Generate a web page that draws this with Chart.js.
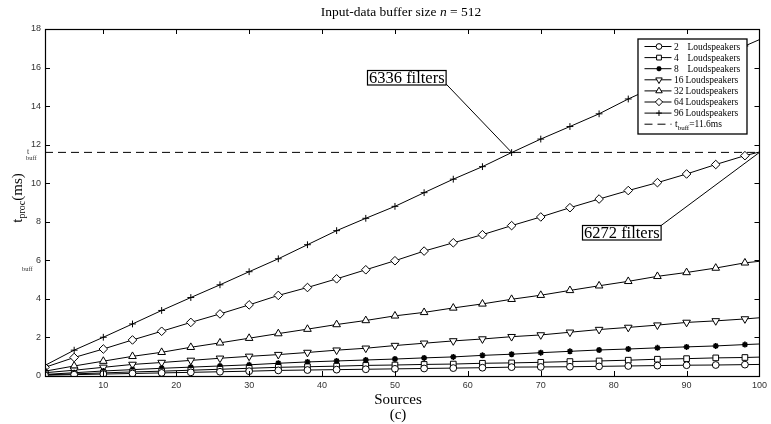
<!DOCTYPE html>
<html><head><meta charset="utf-8">
<script src="https://cdn.jsdelivr.net/npm/chart.js@4/dist/chart.umd.min.js"></script>
<style>html,body{margin:0;padding:0;background:#fff;overflow:hidden}#wrap{width:771px;height:424px;position:relative}</style>
</head><body><div id="wrap"><canvas id="c" width="771" height="424"></canvas></div>
<script>
// ---------------- data ----------------
const SOURCES = [2,6,10,14,18,22,26,30,34,38,42,46,50,54,58,62,66,70,74,78,82,86,90,94,98,100];
const LS_2  = [0.04,0.07,0.10,0.13,0.16,0.19,0.22,0.25,0.29,0.31,0.33,0.35,0.37,0.39,0.41,0.43,0.46,0.47,0.48,0.50,0.52,0.54,0.56,0.57,0.59,0.60];
const LS_4  = [0.06,0.11,0.16,0.21,0.25,0.30,0.35,0.40,0.45,0.48,0.51,0.55,0.57,0.60,0.62,0.66,0.68,0.71,0.75,0.78,0.82,0.87,0.90,0.94,0.96,0.98];
const LS_8  = [0.08,0.17,0.26,0.33,0.40,0.46,0.52,0.58,0.66,0.73,0.78,0.83,0.88,0.94,0.99,1.07,1.13,1.21,1.28,1.35,1.40,1.46,1.51,1.56,1.63,1.66];
const LS_16 = [0.17,0.30,0.45,0.60,0.70,0.81,0.92,1.02,1.11,1.22,1.34,1.44,1.58,1.70,1.82,1.92,2.04,2.13,2.27,2.41,2.52,2.64,2.78,2.86,2.96,3.02];
const LS_32 = [0.25,0.52,0.77,1.02,1.23,1.49,1.72,1.96,2.20,2.43,2.67,2.88,3.12,3.30,3.53,3.74,3.98,4.19,4.44,4.68,4.91,5.17,5.37,5.60,5.87,5.95];
const LS_64 = [0.45,0.96,1.40,1.87,2.32,2.78,3.22,3.69,4.18,4.59,5.04,5.51,5.98,6.48,6.91,7.33,7.80,8.25,8.73,9.18,9.62,10.03,10.48,10.97,11.43,11.62];
const LS_96 = [0.55,1.34,2.01,2.70,3.40,4.07,4.73,5.41,6.08,6.81,7.54,8.18,8.80,9.51,10.21,10.86,11.59,12.29,12.94,13.60,14.37,15.06,15.76,16.46,17.12,17.45];
const SERIES_COUNTS = ['2','4','8','16','32','64','96'];
const T_BUFF = 11.6;
const XTICKS = [10,20,30,40,50,60,70,80,90,100];
const YTICKS = [0,2,4,6,8,10,12,14,16,18];
const ANNOT_TEXT = ['6336 filters','6272 filters'];
const ANNOT_TARGET_X = [66,100];
const ANNOT_TARGET_Y = [11.6,11.6];

// ---------------- styles ----------------
const MARKERS = [
  {style:'circle', r:3.4, fill:'#fff', rot:0},
  {style:'rect', r:4.0, fill:'#fff', rot:0},
  {style:'star', r:3.0, fill:'#000', rot:0},
  {style:'triangle', r:4.4, fill:'#fff', rot:180},
  {style:'triangle', r:4.4, fill:'#fff', rot:0},
  {style:'rectRot', r:4.3, fill:'#fff', rot:0},
  {style:'cross', r:3.4, fill:'#fff', rot:0}
];
const SERIES = [LS_2, LS_4, LS_8, LS_16, LS_32, LS_64, LS_96];
const SERIF = '"Liberation Serif", "DejaVu Serif", serif';
const SANS = '"Liberation Sans", Arial, sans-serif';

const datasets = SERIES.map((vals, k) => ({
  label: SERIES_COUNTS[k] + ' Loudspeakers',
  data: SOURCES.map((x, i) => ({x: x, y: vals[i]})),
  borderColor: '#000',
  borderWidth: 1,
  backgroundColor: MARKERS[k].fill,
  pointStyle: MARKERS[k].style,
  pointRotation: MARKERS[k].rot,
  pointRadius: (c) => (SOURCES[c.dataIndex] === 100 ? 0 : MARKERS[k].r),
  pointBorderWidth: k === 2 ? 1.6 : 1,
  pointBorderColor: '#000',
  pointBackgroundColor: MARKERS[k].fill,
  tension: 0,
  fill: false
}));
datasets.push({
  label: 't_buff=11.6ms',
  data: [{x: SOURCES[0], y: T_BUFF}, {x: SOURCES[SOURCES.length - 1], y: T_BUFF}],
  borderColor: '#000', borderWidth: 1, borderDash: [8, 5], pointRadius: 0, fill: false
});

function drawRuns(ctx, runs, x, y, align) {
  let total = 0;
  runs.forEach(r => { ctx.font = r.font; r.w = ctx.measureText(r.t).width; total += r.w; });
  let cx = align === 'center' ? x - total / 2 : x;
  runs.forEach(r => { ctx.font = r.font; ctx.fillText(r.t, cx, y + (r.dy || 0)); cx += r.w; });
}

const decor = {
  id: 'decor',
  afterDatasetsDraw(chart) {
    const ctx = chart.ctx, a = chart.chartArea;
    const xs = chart.scales.x, ys = chart.scales.y;
    ctx.save();
    ctx.strokeStyle = '#000';
    ctx.fillStyle = '#000';
    ctx.lineWidth = 1.2;
    ctx.strokeRect(Math.round(a.left) + 0.5, Math.round(a.top) + 0.5, Math.round(a.right - a.left), Math.round(a.bottom - a.top));
    ctx.lineWidth = 1;
    ctx.beginPath();
    XTICKS.forEach(v => {
      const px = Math.round(xs.getPixelForValue(v)) + 0.5;
      ctx.moveTo(px, a.bottom); ctx.lineTo(px, a.bottom - 5);
      ctx.moveTo(px, a.top); ctx.lineTo(px, a.top + 5);
    });
    YTICKS.forEach(v => {
      const py = Math.round(ys.getPixelForValue(v)) + 0.5;
      ctx.moveTo(a.left, py); ctx.lineTo(a.left + 5, py);
      ctx.moveTo(a.right, py); ctx.lineTo(a.right - 5, py);
    });
    ctx.stroke();

    // annotations
    const labelPos = [{x: 51.6, y: 15.48, corner: 'br'}, {x: 81.0, y: 7.46, corner: 'tr'}];
    ANNOT_TEXT.forEach((t, i) => {
      ctx.font = '16.5px ' + SERIF;
      const m = ctx.measureText(t);
      const cx = xs.getPixelForValue(labelPos[i].x), cy = ys.getPixelForValue(labelPos[i].y);
      const w = m.width + 3, h = 14.5;
      const bx = Math.round(cx - w / 2) + 0.5, by = Math.round(cy - h / 2) + 0.5;
      const tx = xs.getPixelForValue(ANNOT_TARGET_X[i]), ty = ys.getPixelForValue(ANNOT_TARGET_Y[i]);
      ctx.beginPath();
      const sx = bx + w, sy = labelPos[i].corner === 'br' ? by + h - 1 : by;
      ctx.moveTo(sx, sy); ctx.lineTo(tx, ty);
      ctx.lineWidth = 1; ctx.stroke();
      ctx.fillStyle = '#fff'; ctx.fillRect(bx, by, w, h);
      ctx.lineWidth = 1.2; ctx.strokeRect(bx, by, w, h);
      ctx.fillStyle = '#000'; ctx.textBaseline = 'alphabetic'; ctx.textAlign = 'left';
      ctx.fillText(t, bx + 1.5, by + h - 2.5);
    });

    // legend
    const lx = a.right - 121.5, ly = a.top + 10, lw = 109, lh = 95;
    ctx.fillStyle = '#fff';
    ctx.fillRect(lx, ly, lw, lh);
    ctx.lineWidth = 1.3; ctx.strokeStyle = '#000';
    ctx.strokeRect(lx, ly, lw, lh);
    const rowY0 = ly + 7.5, step = 11.1;
    const ls = lx + 6.5, le = lx + 33.5, lm = lx + 21;
    for (let k = 0; k < 8; k++) {
      const y = rowY0 + k * step;
      ctx.lineWidth = 1; ctx.strokeStyle = '#000';
      ctx.beginPath();
      if (k === 7) ctx.setLineDash([8, 5]);
      ctx.moveTo(ls, y); ctx.lineTo(le, y); ctx.stroke();
      ctx.setLineDash([]);
      ctx.fillStyle = '#000';
      ctx.textBaseline = 'middle'; ctx.textAlign = 'left';
      if (k < 7) {
        const mk = MARKERS[k];
        ctx.fillStyle = mk.fill; ctx.lineWidth = k === 2 ? 1.6 : 1;
        Chart.helpers.drawPoint(ctx, {pointStyle: mk.style, rotation: mk.rot, radius: mk.r * 0.85, borderWidth: ctx.lineWidth}, lm, y);
        ctx.fillStyle = '#000';
        ctx.font = '9.5px ' + SERIF;
        ctx.fillText(SERIES_COUNTS[k], lx + 36, y + 0.5);
        ctx.fillText('Loudspeakers', SERIES_COUNTS[k].length > 1 ? lx + 47.5 : lx + 49.5, y + 0.5);
      } else {
        ctx.textBaseline = 'alphabetic';
        drawRuns(ctx, [
          {t: 't', font: '9.5px ' + SERIF, dy: 0},
          {t: 'buff', font: '7px ' + SERIF, dy: 3},
          {t: '=11.6ms', font: '9.5px ' + SERIF, dy: 0}
        ], lx + 37, y + 2.5, 'left');
      }
    }
    ctx.restore();
  },
  afterDraw(chart) {
    const ctx = chart.ctx;
    const ys = chart.scales.y;
    ctx.save();
    ctx.fillStyle = '#000';
    ctx.textBaseline = 'alphabetic';
    drawRuns(ctx, [
      {t: 'Input-data buffer size ', font: '13.5px ' + SERIF},
      {t: 'n', font: 'italic 13.5px ' + SERIF},
      {t: ' = 512', font: '13.5px ' + SERIF}
    ], 401, 16, 'center');
    ctx.textAlign = 'center';
    ctx.font = '15px ' + SERIF;
    ctx.fillText('Sources', 398, 404);
    ctx.fillText('(c)', 398, 419);
    ctx.textAlign = 'left';
    ctx.save();
    ctx.translate(22, 198);
    ctx.rotate(-Math.PI / 2);
    drawRuns(ctx, [
      {t: 't', font: '15px ' + SERIF, dy: 0},
      {t: 'proc', font: '10px ' + SERIF, dy: 3},
      {t: '(ms)', font: '15px ' + SERIF, dy: 0}
    ], 0, 0, 'center');
    ctx.restore();
    const pb = ys.getPixelForValue(T_BUFF);
    ctx.fillStyle = '#333';
    ctx.font = '8px ' + SERIF;
    ctx.fillText('t', 27, pb + 2);
    ctx.font = '6.5px ' + SERIF;
    ctx.fillText('buff', 26, pb + 7.5);
    const pb2 = ys.getPixelForValue(5.6);
    ctx.fillText('buff', 22, pb2 + 2.5);
    ctx.restore();
  }
};

new Chart(document.getElementById('c'), {
  type: 'line',
  data: {datasets: datasets},
  options: {
    responsive: false,
    animation: false,
    devicePixelRatio: 1,
    layout: {padding: {top: 29, right: 11, left: 0, bottom: 0}},
    plugins: {legend: {display: false}, tooltip: {enabled: false}, title: {display: false}},
    scales: {
      x: {
        type: 'linear', min: 2, max: 100,
        afterBuildTicks: s => { s.ticks = XTICKS.map(v => ({value: v})); },
        afterFit: s => { s.height = 48; },
        grid: {display: false, drawTicks: false},
        border: {display: false},
        ticks: {font: {family: SANS, size: 9}, color: '#333', padding: 4, maxRotation: 0, autoSkip: false}
      },
      y: {
        type: 'linear', min: 0, max: 18,
        afterBuildTicks: s => { s.ticks = YTICKS.map(v => ({value: v})); },
        afterFit: s => { s.width = 45; },
        grid: {display: false, drawTicks: false},
        border: {display: false},
        ticks: {font: {family: SANS, size: 9}, color: '#333', padding: 4, autoSkip: false}
      }
    }
  },
  plugins: [decor]
});
</script>
</body></html>
